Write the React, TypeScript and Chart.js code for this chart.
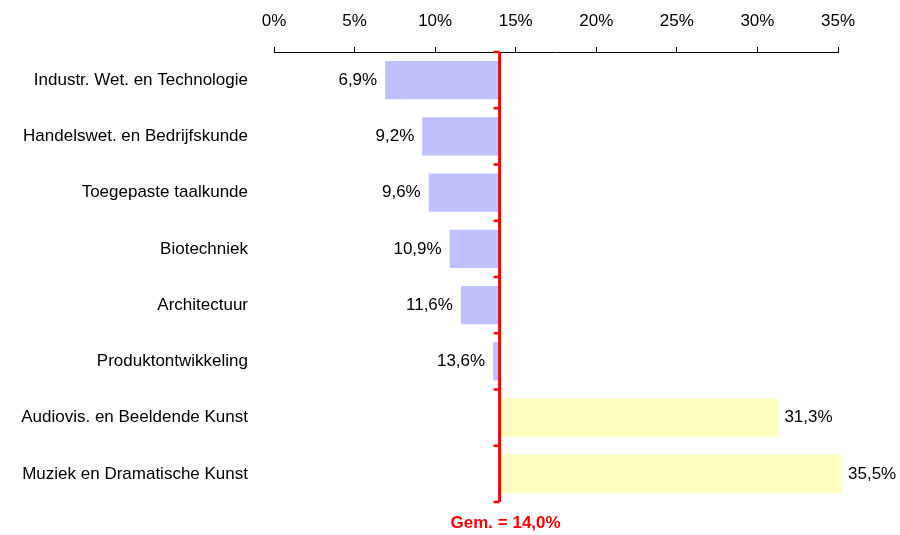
import React, { useEffect, useRef } from "react";
import { Chart, registerables } from "chart.js";

Chart.register(...registerables);

const categories = [
  "Industr. Wet. en Technologie",
  "Handelswet. en Bedrijfskunde",
  "Toegepaste taalkunde",
  "Biotechniek",
  "Architectuur",
  "Produktontwikkeling",
  "Audiovis. en Beeldende Kunst",
  "Muziek en Dramatische Kunst",
];
const values = [6.9, 9.2, 9.6, 10.9, 11.6, 13.6, 31.3, 35.5];
const average = 14.0;
const averageLabel = "Gem. = 14,0%";
const xTicks = [0, 5, 10, 15, 20, 25, 30, 35];

const FONT = 'Arial, "Liberation Sans", sans-serif';

function fmt(v: number) {
  return v.toFixed(1).replace(".", ",") + "%";
}

export default function App() {
  const ref = useRef<HTMLCanvasElement>(null);

  useEffect(() => {
    document.body.style.margin = "0";
    const ctx = ref.current!.getContext("2d")!;

    const avgPlugin = {
      id: "avgPlugin",
      afterDatasetsDraw(chart: any) {
        const c = chart.ctx;
        const xs = chart.scales.x;
        const area = chart.chartArea;
        const x = xs.getPixelForValue(average);
        c.save();
        // value labels
        c.font = `17px ${FONT}`;
        c.fillStyle = "#000";
        c.textBaseline = "middle";
        const meta = chart.getDatasetMeta(0);
        meta.data.forEach((bar: any, i: number) => {
          const v = values[i];
          const px = xs.getPixelForValue(v);
          if (v < average) {
            c.textAlign = "right";
            c.fillText(fmt(v), px - 8, bar.y);
          } else {
            c.textAlign = "left";
            c.fillText(fmt(v), Math.min(px, area.right + 4) + 6, bar.y);
          }
        });
        // red average line
        c.strokeStyle = "#ff0000";
        c.lineWidth = 3;
        c.beginPath();
        c.moveTo(x, area.top);
        c.lineTo(x, area.bottom);
        c.stroke();
        const band = (area.bottom - area.top) / categories.length;
        c.lineWidth = 2.5;
        for (let i = 0; i <= categories.length; i++) {
          const y = area.top + i * band;
          c.beginPath();
          c.moveTo(x - 6, y);
          c.lineTo(x, y);
          c.stroke();
        }
        c.fillStyle = "#ff0000";
        c.font = `bold 17px ${FONT}`;
        c.textAlign = "center";
        c.textBaseline = "middle";
        c.fillText(averageLabel, x + 6, Math.min(area.bottom + 21, 524));
        c.restore();
      },
    };

    const chart = new Chart(ctx, {
      type: "bar",
      data: {
        labels: categories,
        datasets: [
          {
            data: values.map((v) => [Math.min(v, average), Math.max(v, average)]) as any,
            backgroundColor: values.map((v) => (v < average ? "#C0C0FF" : "#FFFFC0")),
            borderWidth: 0,
            barPercentage: 0.68,
            categoryPercentage: 1,
            clip: 4,
          } as any,
        ],
      },
      options: {
        indexAxis: "y",
        animation: false,
        responsive: false,
        maintainAspectRatio: false,
        layout: { padding: { top: 0, right: 62, bottom: 33, left: 0 } },
        plugins: {
          legend: { display: false },
          tooltip: { enabled: false },
        },
        scales: {
          x: {
            position: "top",
            min: 0,
            max: 35,
            afterFit: (s: any) => {
              s.height = 52;
            },
            afterBuildTicks: (s: any) => {
              s.ticks = xTicks.map((v) => ({ value: v }));
            },
            ticks: {
              padding: 15,
              color: "#000",
              font: { family: FONT, size: 17 },
              callback: (v: any) => v + "%",
            },
            grid: {
              drawOnChartArea: false,
              drawTicks: true,
              tickLength: 5,
              color: "#000",
            },
            border: { display: true, color: "#000", width: 1 },
          },
          y: {
            afterFit: (s: any) => {
              s.width = 274;
              s.paddingTop = 0;
              s.paddingBottom = 0;
            },
            ticks: {
              padding: 26,
              color: "#000",
              font: { family: FONT, size: 17 },
            },
            grid: { display: false, drawTicks: false },
            border: { display: false },
          },
        },
      },
      plugins: [avgPlugin],
    });
    return () => chart.destroy();
  }, []);

  return <canvas ref={ref} width={900} height={535} style={{ display: "block" }} />;
}
